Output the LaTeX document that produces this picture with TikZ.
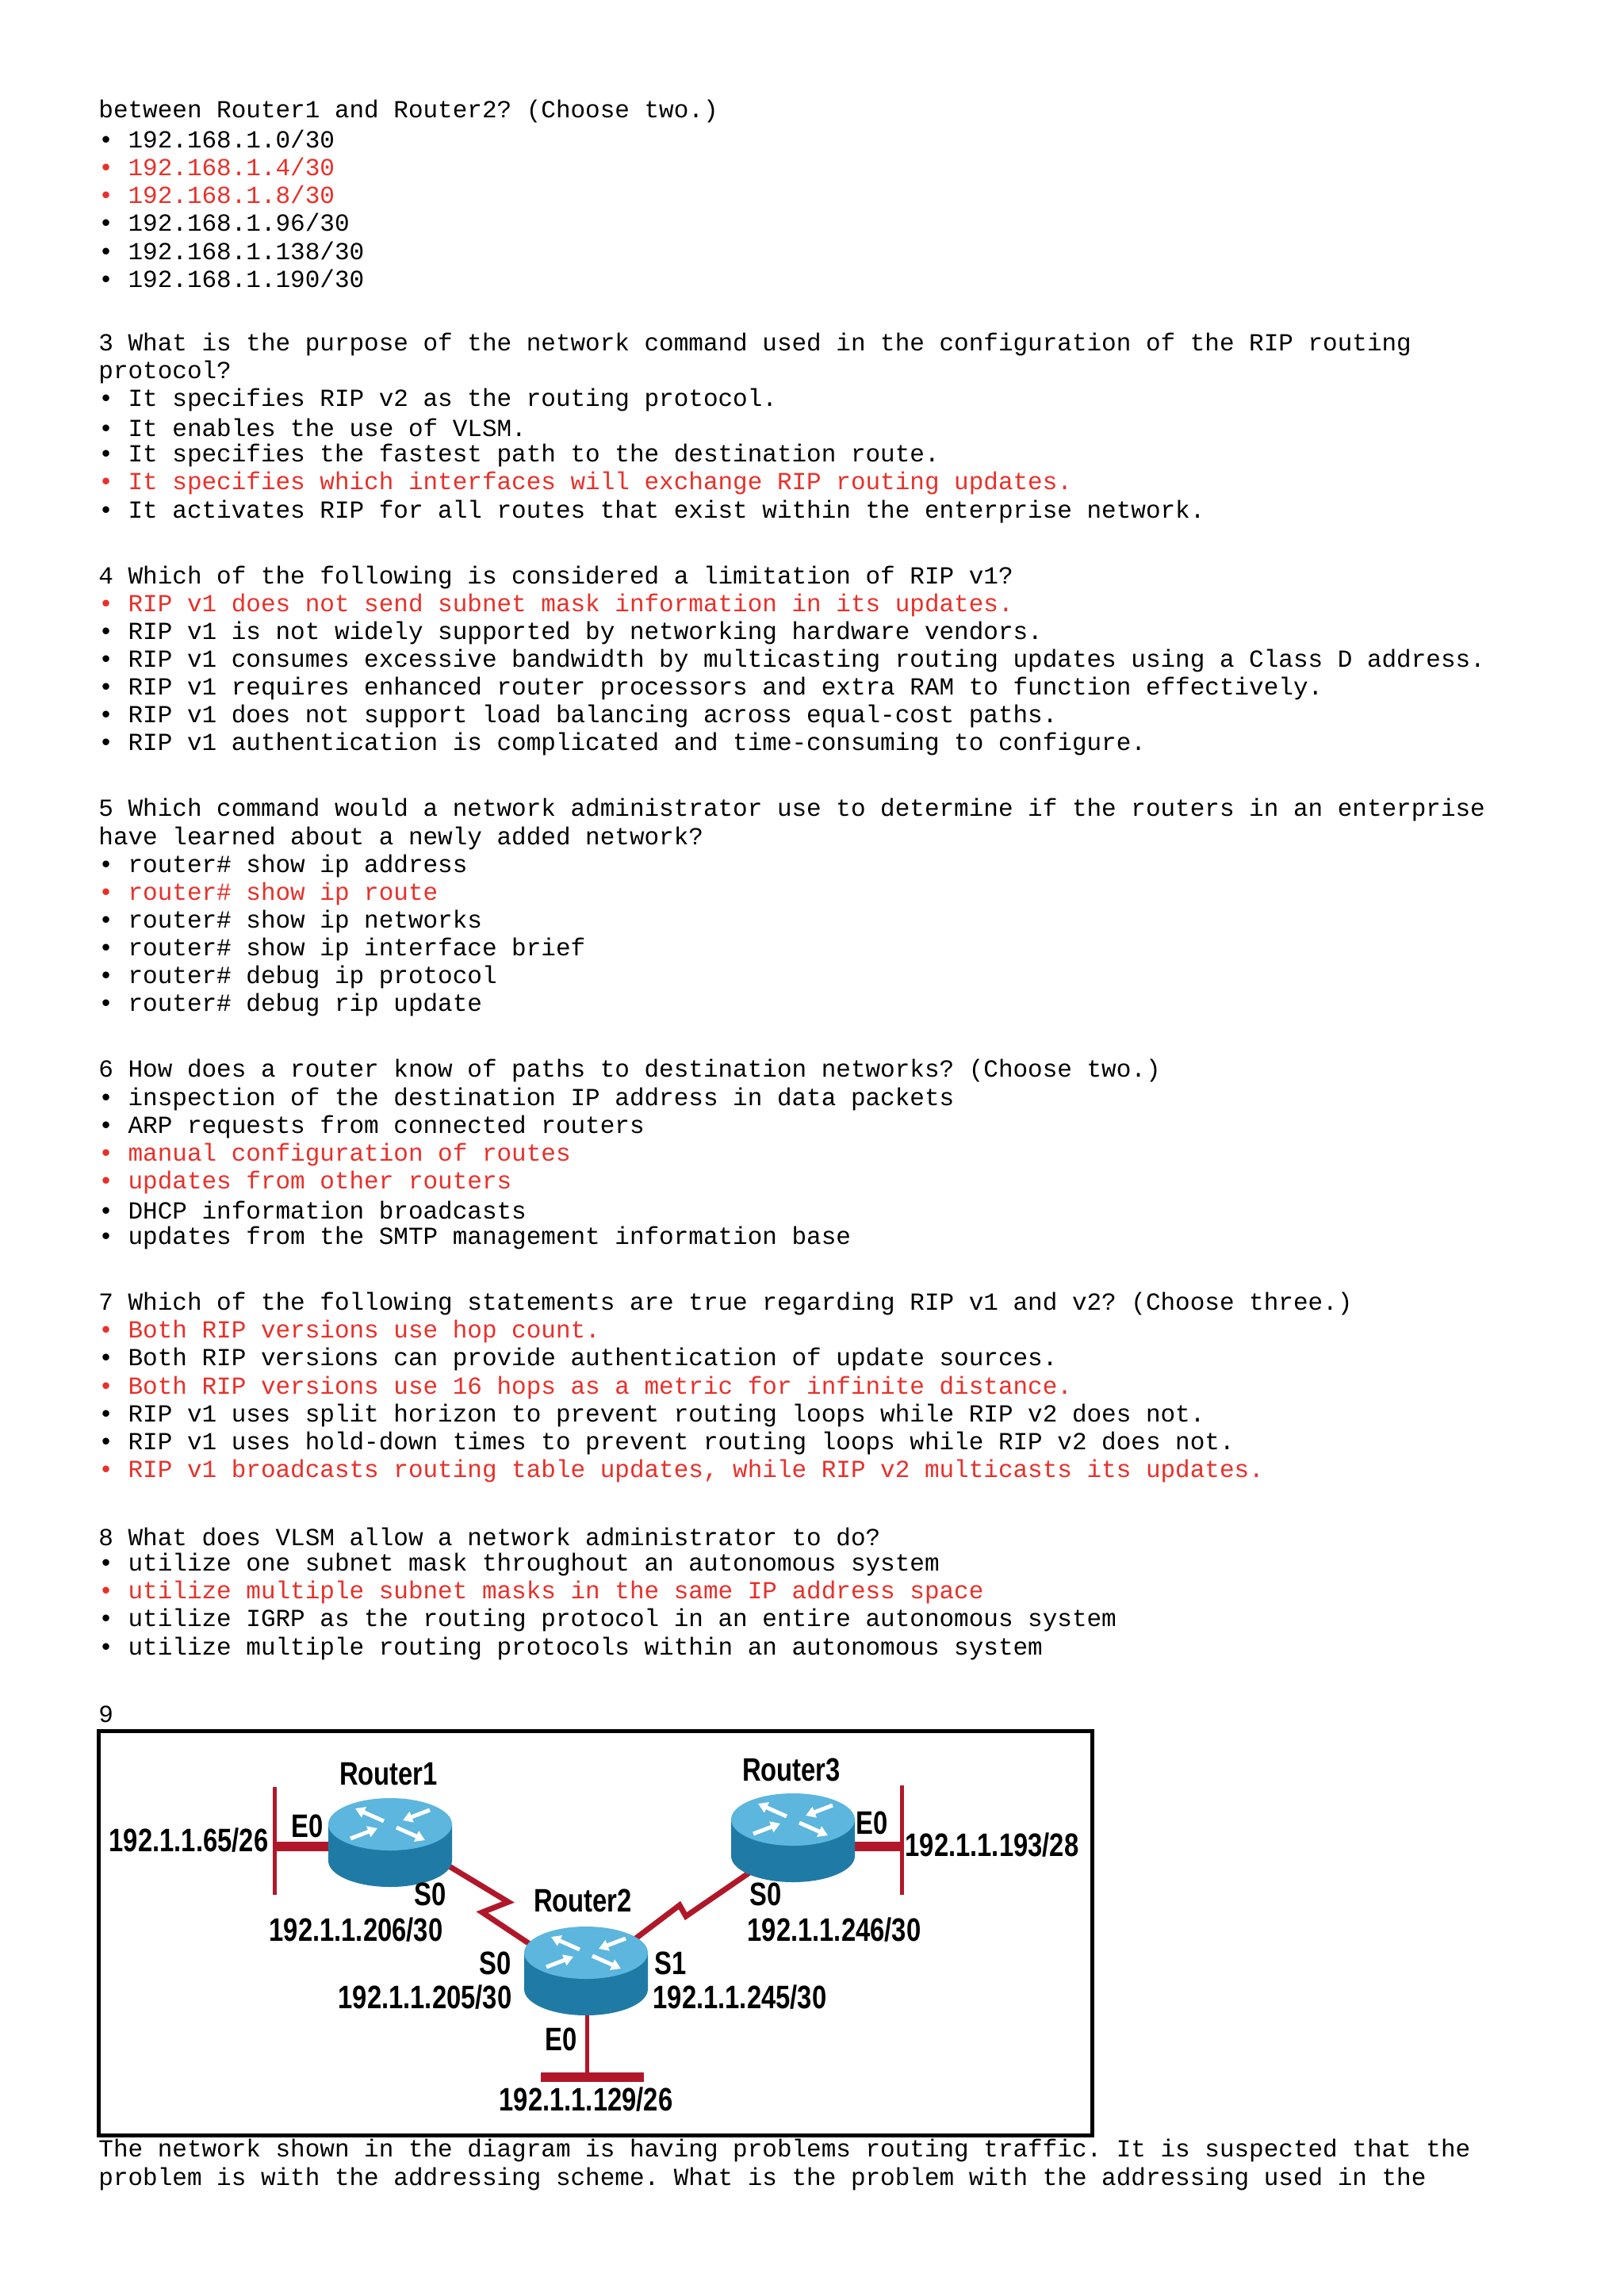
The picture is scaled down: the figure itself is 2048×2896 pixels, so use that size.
\documentclass[tikz,border=0pt]{standalone}
\usetikzlibrary{arrows.meta}
\usepackage{fontspec}
\setmonofont{Liberation Mono}
\newfontfamily\lblfont{Liberation Sans}
\definecolor{ansred}{HTML}{E8302A}
\definecolor{linkred}{HTML}{B0182A}
\definecolor{rtop}{HTML}{5CB6DE}
\definecolor{rbody}{HTML}{1F7BA6}
\newcommand{\qline}[4]{\node[txt,#4] (#1) at (124,#2) {#3};}
\newcommand{\rlbl}[1]{\scalebox{0.8}[1]{#1}}
\newcommand{\routerdraw}[3]{%
  \coordinate (#1) at (#2,#3);
  \fill[rbody] (#2-78,#3) -- (#2-78,#3+46) arc[start angle=180,end angle=0,x radius=78,y radius=33] -- (#2+78,#3) -- cycle;
  \fill[rtop] (#2,#3) ellipse[x radius=78,y radius=33];
  \begin{scope}[shift={(#2,#3)},white,line width=2.5pt,-{Triangle[length=6pt,width=7pt]}]
    \draw (-8,-4) -- (-44,-20);
    \draw (8,4) -- (44,20);
    \draw (-50,18) -- (-16,5);
    \draw (50,-18) -- (16,-5);
  \end{scope}}
\tikzset{
  txt/.style={anchor=west,inner sep=0,font=\ttfamily\fontsize{15.5}{18}\selectfont},
  ans/.style={text=ansred},
  plain/.style={text=black},
  lbl/.style={inner sep=0,font=\lblfont\bfseries\fontsize{20.5}{24}\selectfont},
  wire/.style={linkred,line width=2.5pt},
  bar/.style={linkred,line width=6pt},
  serial/.style={linkred,line width=3.5pt,line join=miter}
}
\begin{document}
\begin{tikzpicture}[x=0.5pt,y=-0.5pt]
\useasboundingbox (0,0) rectangle (2048,2896);
\fill[white] (0,0) rectangle (2048,2896);
\qline{a1}{140.4}{between Router1 and Router2? (Choose two.)}{plain}
\qline{a2}{175.6}{• 192.168.1.0/30}{plain}
\qline{a3}{210.7}{• 192.168.1.4/30}{ans}
\qline{a4}{245.8}{• 192.168.1.8/30}{ans}
\qline{a5}{280.9}{• 192.168.1.96/30}{plain}
\qline{a6}{316}{• 192.168.1.138/30}{plain}
\qline{a7}{351.1}{• 192.168.1.190/30}{plain}
\qline{b1}{434.3}{3 What is the purpose of the network command used in the configuration of the RIP routing}{plain}
\qline{b2}{469.4}{protocol?}{plain}
\qline{b3}{504.5}{• It specifies RIP v2 as the routing protocol.}{plain}
\qline{b4}{539.6}{• It enables the use of VLSM.}{plain}
\qline{b5}{574.7}{• It specifies the fastest path to the destination route.}{plain}
\qline{b6}{609.8}{• It specifies which interfaces will exchange RIP routing updates.}{ans}
\qline{b7}{645}{• It activates RIP for all routes that exist within the enterprise network.}{plain}
\qline{c1}{728.1}{4 Which of the following is considered a limitation of RIP v1?}{plain}
\qline{c2}{763.2}{• RIP v1 does not send subnet mask information in its updates.}{ans}
\qline{c3}{798.3}{• RIP v1 is not widely supported by networking hardware vendors.}{plain}
\qline{c4}{833.4}{• RIP v1 consumes excessive bandwidth by multicasting routing updates using a Class D address.}{plain}
\qline{c5}{868.6}{• RIP v1 requires enhanced router processors and extra RAM to function effectively.}{plain}
\qline{c6}{903.7}{• RIP v1 does not support load balancing across equal-cost paths.}{plain}
\qline{c7}{938.8}{• RIP v1 authentication is complicated and time-consuming to configure.}{plain}
\qline{d1}{1021.9}{5 Which command would a network administrator use to determine if the routers in an enterprise}{plain}
\qline{d2}{1057}{have learned about a newly added network?}{plain}
\qline{d3}{1092.2}{• router\# show ip address}{plain}
\qline{d4}{1127.3}{• router\# show ip route}{ans}
\qline{d5}{1162.4}{• router\# show ip networks}{plain}
\qline{d6}{1197.5}{• router\# show ip interface brief}{plain}
\qline{d7}{1232.6}{• router\# debug ip protocol}{plain}
\qline{d8}{1267.7}{• router\# debug rip update}{plain}
\qline{e1}{1350.9}{6 How does a router know of paths to destination networks? (Choose two.)}{plain}
\qline{e2}{1386}{• inspection of the destination IP address in data packets}{plain}
\qline{e3}{1421.1}{• ARP requests from connected routers}{plain}
\qline{e4}{1456.2}{• manual configuration of routes}{ans}
\qline{e5}{1491.3}{• updates from other routers}{ans}
\qline{e6}{1526.4}{• DHCP information broadcasts}{plain}
\qline{e7}{1561.6}{• updates from the SMTP management information base}{plain}
\qline{f1}{1644.7}{7 Which of the following statements are true regarding RIP v1 and v2? (Choose three.)}{plain}
\qline{f2}{1679.8}{• Both RIP versions use hop count.}{ans}
\qline{f3}{1714.9}{• Both RIP versions can provide authentication of update sources.}{plain}
\qline{f4}{1750}{• Both RIP versions use 16 hops as a metric for infinite distance.}{ans}
\qline{f5}{1785.2}{• RIP v1 uses split horizon to prevent routing loops while RIP v2 does not.}{plain}
\qline{f6}{1820.3}{• RIP v1 uses hold-down times to prevent routing loops while RIP v2 does not.}{plain}
\qline{f7}{1855.4}{• RIP v1 broadcasts routing table updates, while RIP v2 multicasts its updates.}{ans}
\qline{g1}{1938.6}{8 What does VLSM allow a network administrator to do?}{plain}
\qline{g2}{1973.7}{• utilize one subnet mask throughout an autonomous system}{plain}
\qline{g3}{2008.8}{• utilize multiple subnet masks in the same IP address space}{ans}
\qline{g4}{2043.9}{• utilize IGRP as the routing protocol in an entire autonomous system}{plain}
\qline{g5}{2079}{• utilize multiple routing protocols within an autonomous system}{plain}
\qline{h1}{2162.2}{9}{plain}
\qline{i1}{2712.9}{The network shown in the diagram is having problems routing traffic. It is suspected that the}{plain}
\qline{i2}{2748}{problem is with the addressing scheme. What is the problem with the addressing used in the}{plain}
% diagram frame
\draw[line width=2.5pt] (124,2183) rectangle (1377,2693);
% LAN segments
\coordinate (l1t) at (346,2254); \coordinate (l1b) at (346,2390);
\coordinate (l1a) at (346,2329); \coordinate (l1r) at (420,2329);
\draw[wire] (l1t) -- (l1b); \draw[bar] (l1a) -- (l1r);
\coordinate (l3t) at (1137,2252); \coordinate (l3b) at (1137,2390);
\coordinate (l3a) at (1137,2329); \coordinate (l3l) at (1070,2329);
\draw[wire] (l3t) -- (l3b); \draw[bar] (l3a) -- (l3l);
\coordinate (l2t) at (740,2530); \coordinate (l2b) at (740,2623);
\coordinate (l2l) at (682,2620); \coordinate (l2r) at (812,2620);
\draw[wire] (l2t) -- (l2b); \draw[bar] (l2l) -- (l2r);
% serial links
\coordinate (s1a) at (560,2350); \coordinate (s1b) at (641,2399);
\coordinate (s1c) at (608,2412); \coordinate (s1d) at (680,2460);
\draw[serial] (s1a) -- (s1b) -- (s1c) -- (s1d);
\coordinate (s2a) at (795,2450); \coordinate (s2b) at (857,2403);
\coordinate (s2c) at (865,2417); \coordinate (s2d) at (945,2362);
\draw[serial] (s2a) -- (s2b) -- (s2c) -- (s2d);
% routers
\routerdraw{r1}{492}{2301}
\routerdraw{r3}{1000}{2295}
\routerdraw{r2}{739}{2463}
% labels
\node[lbl] (n1) at (490,2238) {\rlbl{Router1}};
\node[lbl] (n3) at (998,2232) {\rlbl{Router3}};
\node[lbl] (n2) at (735,2397) {\rlbl{Router2}};
\node[lbl] (e01) at (388,2303) {\rlbl{E0}};
\node[lbl] (ip1) at (238,2321) {\rlbl{192.1.1.65/26}};
\node[lbl] (e03) at (1100,2299) {\rlbl{E0}};
\node[lbl] (ip3) at (1251,2327) {\rlbl{192.1.1.193/28}};
\node[lbl] (e02) at (708,2572) {\rlbl{E0}};
\node[lbl] (ip2) at (739,2648) {\rlbl{192.1.1.129/26}};
\node[lbl] (s01) at (543,2389) {\rlbl{S0}};
\node[lbl] (ip4) at (449,2434) {\rlbl{192.1.1.206/30}};
\node[lbl] (s02) at (625,2476) {\rlbl{S0}};
\node[lbl] (ip5) at (536,2519) {\rlbl{192.1.1.205/30}};
\node[lbl] (s12) at (846,2476) {\rlbl{S1}};
\node[lbl] (ip6) at (933,2519) {\rlbl{192.1.1.245/30}};
\node[lbl] (s03) at (966,2389) {\rlbl{S0}};
\node[lbl] (ip7) at (1052,2434) {\rlbl{192.1.1.246/30}};
\end{tikzpicture}
\end{document}
